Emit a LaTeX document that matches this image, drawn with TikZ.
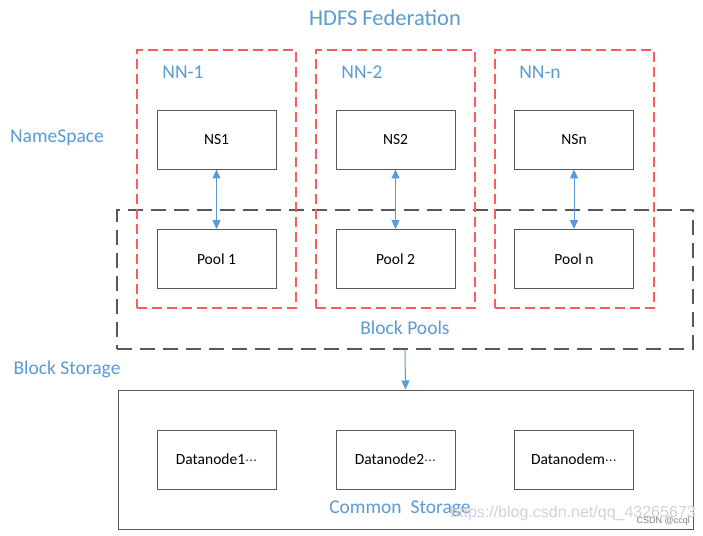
\documentclass[tikz,border=0pt]{standalone}
\usepackage{fontspec}
\setmainfont{Carlito}
\usetikzlibrary{arrows.meta}
\definecolor{hblue}{HTML}{5B9BD5}
\definecolor{hred}{HTML}{FF5A5F}
\definecolor{hgray}{HTML}{595959}
\begin{document}
\begin{tikzpicture}[x=1pt,y=-1pt,
  nnbox/.style={draw=hred,line width=1.1pt,dash pattern=on 10pt off 5pt},
  poolbox/.style={draw=hgray,line width=1.1pt,dash pattern=on 15pt off 8pt},
  inbox/.style={draw=hgray,line width=0.9pt,minimum width=119pt,minimum height=59pt,inner sep=0pt,font=\fontsize{15.5}{17}\selectfont},
  lbl/.style={text=hblue,font=\fontsize{19.5}{21}\selectfont,inner sep=0pt},
  link/.style={draw=hblue,line width=1pt,{Triangle[length=9pt,width=8pt]}-{Triangle[length=9pt,width=8pt]}},
  down/.style={draw=hblue,line width=1pt,-{Triangle[length=9pt,width=8pt]}}]
\useasboundingbox (0,0) rectangle (703,535);
\fill[white] (0,0) rectangle (703,535);
% title and side labels
\node[lbl,font=\fontsize{22.5}{24}\selectfont] (title) at (385,18) {HDFS Federation};
\node[lbl] (nslbl) at (57,138) {NameSpace};
\node[lbl] (bslbl) at (67,369) {Block Storage};
% block pools dashed box
\node[poolbox,minimum width=576pt,minimum height=139pt,inner sep=0pt] (bp) at (405,279.5) {};
\node[lbl] (bplbl) at (405,328) {Block Pools};
% NN boxes
\node[nnbox,minimum width=159pt,minimum height=258pt,inner sep=0pt] (nn1) at (216.5,179) {};
\node[nnbox,minimum width=159pt,minimum height=258pt,inner sep=0pt] (nn2) at (395.5,179) {};
\node[nnbox,minimum width=159pt,minimum height=258pt,inner sep=0pt] (nnn) at (574.5,179) {};
\node[lbl] (nn1l) at (183,72) {NN-1};
\node[lbl] (nn2l) at (362,72) {NN-2};
\node[lbl] (nnnl) at (540,72) {NN-n};
% NS and pools
\node[inbox] (ns1) at (216.5,139.5) {NS1};
\node[inbox] (ns2) at (395.5,139.5) {NS2};
\node[inbox] (nsn) at (574,139.5) {NSn};
\node[inbox] (p1) at (216.5,259) {Pool 1};
\node[inbox] (p2) at (395.5,259) {Pool 2};
\node[inbox] (pn) at (574,259) {Pool n};
\draw[link] (ns1) -- (p1);
\draw[link] (ns2) -- (p2);
\draw[link] (nsn) -- (pn);
% common storage
\node[draw=hgray,line width=1pt,minimum width=575pt,minimum height=139pt,inner sep=0pt] (cs) at (405.5,459.5) {};
\draw[down] (bp.south) -- (cs.north);
\node[inbox] (d1) at (216.5,459.5) {Datanode1\fontspec{DejaVu Sans}\fontsize{12}{14}\selectfont⋯};
\node[inbox] (d2) at (395.5,459.5) {Datanode2\fontspec{DejaVu Sans}\fontsize{12}{14}\selectfont⋯};
\node[inbox] (dm) at (574,459.5) {Datanodem\fontspec{DejaVu Sans}\fontsize{12}{14}\selectfont⋯};
\node[lbl] (cslbl) at (400,509) {Common\hspace{9pt}Storage};
% watermark
\node[text=gray!35,font=\fontspec{Liberation Sans}\fontsize{16}{18}\selectfont,inner sep=0pt,anchor=west] (wm) at (450,513) {https://blog.csdn.net/qq\_43265673};
\node[text=gray,font=\fontspec{Liberation Sans}\fontsize{9}{11}\selectfont,inner sep=0pt,anchor=east] (wm2) at (690,521) {CSDN @ccql};
\end{tikzpicture}
\end{document}
